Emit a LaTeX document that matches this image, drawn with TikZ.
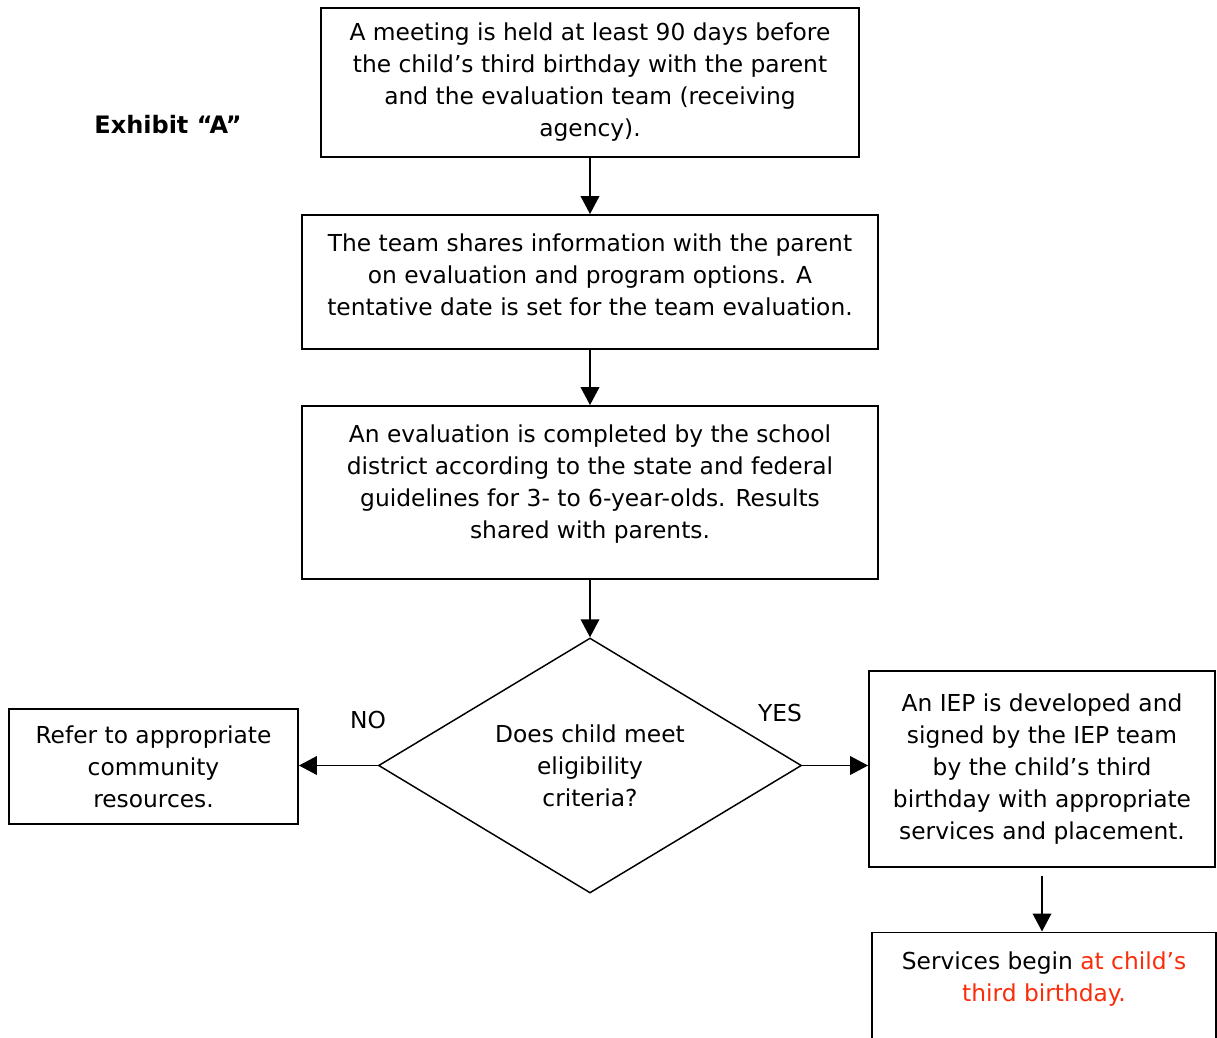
\documentclass[tikz,border=0pt]{standalone}
\usepackage{fontspec}
\setmainfont{DejaVu Sans}
\usepackage{xcolor}
\usetikzlibrary{shapes.geometric,arrows.meta,positioning,calc}
\definecolor{hl}{RGB}{250,45,10}
\tikzset{
  box/.style={draw,line width=1.4pt,align=center,font=\fontsize{17.5}{24}\selectfont,inner sep=4pt},
  dec/.style={draw,diamond,aspect=1.66,line width=1.1pt,align=center,font=\fontsize{17.5}{24}\selectfont,inner sep=0pt},
  arr/.style={-{Triangle[length=13.5pt,width=14pt]},line width=1.2pt},
  lbl/.style={font=\fontsize{17.5}{24}\selectfont,inner sep=1pt}
}

\begin{document}
\begin{tikzpicture}[x=0.75pt,y=-0.75pt]
\useasboundingbox (0,0) rectangle (1217,1038);
\node[font=\fontsize{18}{22}\selectfont\bfseries] (title) at (168,125) {Exhibit “A”};
% main column
\node[box,minimum width=403.5pt,minimum height=111.75pt] (meet) at (590,82.5)
  {A meeting is held at least 90 days before\\the child’s third birthday with the parent\\and the evaluation team (receiving\\agency).};
\node[box,minimum width=432pt,minimum height=100.5pt,text depth=10.5pt] (share) at (590,282)
  {The team shares information with the parent\\on evaluation and program options. A\\tentative date is set for the team evaluation.};
\node[box,minimum width=432pt,minimum height=129.75pt,text depth=16pt] (eval) at (590,492.5)
  {An evaluation is completed by the school\\district according to the state and federal\\guidelines for 3- to 6-year-olds. Results\\shared with parents.};
\node[dec,minimum width=317.25pt,minimum height=191.25pt] (elig) at (590,765.5)
  {Does child meet\\eligibility\\criteria?};
% sides
\node[box,minimum width=216.75pt,minimum height=86.25pt] (refer) at (153.5,766.5)
  {Refer to appropriate\\community\\resources.};
\node[box,minimum width=259.5pt,minimum height=147pt] (iep) at (1042,769)
  {An IEP is developed and\\signed by the IEP team\\by the child’s third\\birthday with appropriate\\services and placement.};
\node[box,anchor=north,inner sep=0pt] (svc) at (1044,931.5)
  {\parbox[c][110pt][t]{258pt}{\centering\rule{0pt}{28pt}Services begin \textcolor{hl}{at child’s}\\\textcolor{hl}{third birthday.}}};
% connectors
\draw[arr] (meet) -- (share);
\draw[arr] (share) -- (eval);
\draw[arr] (eval) -- (elig);
\draw[arr] (elig.west) -- (refer.east |- elig.west);
\draw[arr] (elig.east) -- (elig.east -| iep.west);
\draw[arr,shorten <=6pt] (iep.south) -- (iep.south |- svc.north);
\node[lbl] (no) at (368,720) {NO};
\node[lbl] (yes) at (780,713) {YES};
\end{tikzpicture}
\end{document}
